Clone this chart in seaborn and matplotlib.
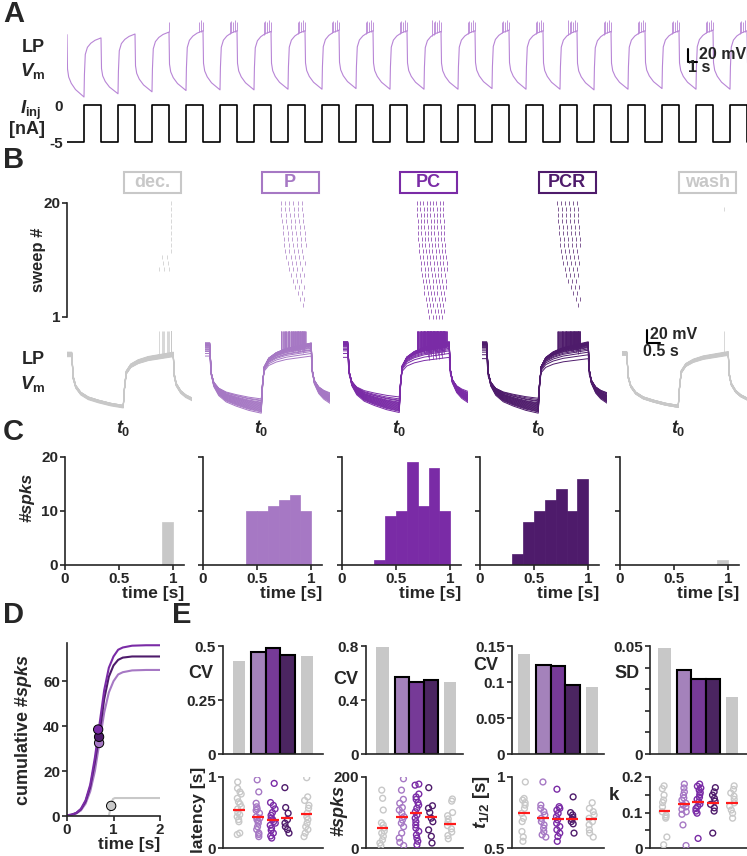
import numpy as np
import pandas as pd
import matplotlib
matplotlib.use("Agg")
import matplotlib.pyplot as plt
import seaborn as sns
from matplotlib.patches import Rectangle

# ---------------- data ----------------
conds = ["dec.", "P", "PC", "PCR", "wash"]
cond_colors = ["#c8c8c8", "#a678c4", "#7a2ba6", "#4e1b6b", "#c8c8c8"]
trace_a_color = "#b885d6"

# A: LP membrane potential, one cycle shape (0 = plateau, 1 = trough), time from step onset
cycle_period = 4.0
a_tmpl_t = [0, 0.06, 0.2, 0.5, 1.0, 1.5, 2.0, 2.05, 2.15, 2.4, 2.8, 3.3, 4.0]
a_tmpl_n = [0, 0.55, 0.68, 0.78, 0.88, 0.94, 1.0, 0.62, 0.28, 0.16, 0.09, 0.04, 0]
a_plateau = [-46, -51, -45, -42, -40, -40, -41, -40, -39, -40, -40, -41, -40, -39, -40, -40, -41, -40, -40, -39, -40, -40]
a_trough = [-142, -137, -134, -132, -131, -131, -130, -130, -129, -130, -130, -130, -129, -130, -130, -131, -130, -129, -130, -130, -130]
a_spikes = [0, 0, 1, 3, 5, 5, 5, 5, 5, 5, 6, 5, 5, 5, 6, 5, 5, 5, 5, 5, 5]
a_spike_gap = 0.2
a_spike_peak = [-27, -24, -26, -25, -27, -24]
i_levels = [-5, 0]
i_durs = [2.0, 2.0]

# B: sweep traces (time relative to t0), same normalised shape
b_tmpl_t = [-2.25, -2.06, -2.0, -1.9, -1.7, -1.4, -1.0, -0.5, 0.0, 0.05, 0.12, 0.3, 0.6, 1.0, 1.5, 2.0, 2.04, 2.12, 2.3, 2.5, 2.75]
b_tmpl_n = [0.0, 0.0, 0.45, 0.62, 0.75, 0.84, 0.9, 0.96, 1.0, 0.65, 0.35, 0.22, 0.14, 0.08, 0.04, 0.0, 0.4, 0.58, 0.72, 0.8, 0.86]

dec_plateau = [-62, -61, -63, -60, -62, -59, -61, -60, -58, -59, -57, -58, -60, -57, -58, -59, -57, -58, -56, -57]
dec_trough = [-140, -141, -139, -140, -142, -139, -140, -141, -139, -138, -140, -139, -141, -138, -140, -139, -138, -140, -139, -138]
p_plateau = [-62, -58, -55, -53, -52, -50, -49, -48, -47, -46, -46, -45, -45, -44, -44, -43, -43, -42, -42, -42]
p_trough = [-128, -130, -131, -133, -134, -135, -136, -137, -138, -139, -140, -141, -142, -143, -144, -145, -146, -147, -148, -150]
pc_plateau = [-64, -58, -54, -52, -50, -48, -47, -46, -45, -45, -44, -44, -43, -43, -42, -42, -41, -41, -40, -40]
pc_trough = [-125, -128, -130, -131, -133, -134, -135, -136, -137, -138, -139, -140, -141, -142, -143, -144, -145, -146, -147, -149]
pcr_plateau = [-66, -60, -56, -53, -51, -49, -48, -47, -46, -45, -45, -44, -44, -43, -43, -42, -42, -41, -41, -40]
pcr_trough = [-127, -129, -131, -132, -134, -135, -136, -137, -138, -139, -140, -141, -142, -143, -144, -145, -146, -147, -148, -150]
wash_plateau = [-60, -59, -61, -58, -60, -57, -59, -58, -57, -58, -56, -57, -59, -56, -57, -58, -56, -57, -55, -56]
wash_trough = [-141, -140, -139, -141, -140, -138, -140, -141, -139, -138, -140, -139, -141, -138, -140, -139, -138, -140, -139, -138]

# B raster: first-spike latency [s after t0], spike count and interval, sweeps 1..20
dec_lat = [0, 0, 0, 0, 0, 0, 0, 0, 1.45, 1.6, 1.55, 1.9, 1.92, 1.9, 1.91, 1.9, 1.92, 1.9, 1.91, 1.9]
dec_cnt = [0, 0, 0, 0, 0, 0, 0, 0, 3, 2, 2, 1, 1, 1, 1, 1, 1, 1, 1, 1]
p_lat = [0, 0, 1.68, 1.55, 1.45, 1.35, 1.25, 1.2, 1.1, 1.05, 1.0, 0.95, 0.92, 0.9, 0.88, 0.85, 0.83, 0.8, 0.78, 0.77]
p_cnt = [0, 0, 1, 2, 2, 3, 3, 4, 4, 5, 5, 5, 6, 6, 6, 6, 6, 6, 6, 6]
pc_lat = [1.2, 1.15, 1.1, 1.05, 1.0, 0.97, 0.94, 0.9, 0.88, 0.85, 0.83, 0.8, 0.78, 0.76, 0.75, 0.74, 0.73, 0.72, 0.71, 0.7]
pc_cnt = [5, 6, 6, 7, 7, 8, 8, 8, 9, 9, 9, 9, 9, 9, 9, 9, 9, 9, 9, 9]
pcr_lat = [0, 0, 1.6, 1.5, 1.4, 1.3, 1.2, 1.1, 1.05, 1.0, 0.95, 0.9, 0.88, 0.85, 0.83, 0.82, 0.8, 0.78, 0.77, 0.76]
pcr_cnt = [0, 0, 1, 2, 2, 3, 3, 4, 4, 5, 5, 5, 6, 6, 6, 6, 6, 6, 6, 6]
wash_lat = [0, 0, 0, 0, 0, 0, 0, 0, 0, 0, 0, 0, 0, 0, 0, 0, 0, 0, 1.84, 0]
wash_cnt = [0, 0, 0, 0, 0, 0, 0, 0, 0, 0, 0, 0, 0, 0, 0, 0, 0, 0, 1, 0]
isi = [0.2, 0.17, 0.13, 0.16, 0.2]

# C: spike-time histograms, 0.1 s bins
hist_centers = [0.05, 0.15, 0.25, 0.35, 0.45, 0.55, 0.65, 0.75, 0.85, 0.95]
dec_hist = [0, 0, 0, 0, 0, 0, 0, 0, 0, 8]
p_hist = [0, 0, 0, 0, 10, 10, 11, 12, 13, 10]
pc_hist = [0, 0, 0, 1, 9, 10, 19, 11, 18, 10]
pcr_hist = [0, 0, 0, 2, 8, 10, 12, 14, 10, 16]
wash_hist = [0, 0, 0, 0, 0, 0, 0, 0, 0, 1]

# D: cumulative spike counts
d_t = [0, 0.1, 0.2, 0.3, 0.4, 0.5, 0.6, 0.7, 0.8, 0.9, 1.0, 1.1, 1.2, 1.4, 1.7, 2.0]
d_p = [0.2, 0.5, 1.1, 2.5, 5.5, 11, 20, 33, 46, 55, 60, 63, 64, 64.8, 65, 65]
d_pc = [0.3, 0.6, 1.4, 3.2, 7, 14, 26, 41, 56, 66, 71, 74, 75, 75.8, 76, 76]
d_pcr = [0.3, 0.6, 1.3, 3, 6.5, 13, 24, 37, 52, 62, 67, 69.5, 70.5, 71, 71, 71]
d_gray_t = [0, 0.9, 0.93, 0.96, 0.99, 1.03, 2.0]
d_gray = [0, 0, 3, 6, 7.6, 8, 8]
d_half_cond = ["P", "PCR", "PC", "dec."]
d_half_t = [0.69, 0.69, 0.67, 0.95]
d_half_y = [32.5, 35.2, 38.5, 4.5]

# E: bar summaries
bar_cv1 = [0.429, 0.472, 0.491, 0.46, 0.455]
bar_cv2 = [0.792, 0.571, 0.534, 0.546, 0.534]
bar_cv3 = [0.139, 0.124, 0.1223, 0.0965, 0.0932]
bar_sd4 = [0.0491, 0.0388, 0.0346, 0.0349, 0.0265]

# E: per-preparation values
lat_dec = [0.93, 0.84, 0.79, 0.76, 0.70, 0.65, 0.62, 0.58, 0.55, 0.50, 0.47, 0.44, 0.40, 0.37, 0.21, 0.19]
lat_p = [0.96, 0.79, 0.63, 0.58, 0.55, 0.53, 0.49, 0.44, 0.42, 0.40, 0.38, 0.35, 0.30, 0.26, 0.21, 0.19, 0.16]
lat_pc = [0.91, 0.64, 0.60, 0.55, 0.50, 0.46, 0.42, 0.40, 0.37, 0.35, 0.32, 0.28, 0.25, 0.21, 0.17, 0.14]
lat_pcr = [0.85, 0.57, 0.49, 0.40, 0.35, 0.30, 0.26, 0.21]
lat_wash = [0.99, 0.72, 0.67, 0.60, 0.56, 0.49, 0.44, 0.40, 0.35, 0.30, 0.26, 0.21, 0.16]
lat_mean = [0.535, 0.437, 0.395, 0.42, 0.475]

spk_dec = [163, 140, 107, 71, 65, 56, 48, 42, 33, 23, 14, 7]
spk_p = [195, 163, 137, 126, 114, 107, 98, 88, 79, 70, 60, 42, 28, 16, 7]
spk_pc = [180, 177, 152, 144, 137, 128, 121, 112, 102, 93, 84, 74, 65, 56, 47, 37, 28, 19, 9]
spk_pcr = [170, 119, 112, 100, 84, 74, 51, 33, 14]
spk_wash = [138, 132, 100, 91, 82, 73, 63, 54, 45, 35, 26]
spk_mean = [57, 88, 100, 86, 68]

th_dec = [0.965, 0.849, 0.837, 0.819, 0.802, 0.779, 0.744, 0.709, 0.686, 0.616, 0.577, 0.547]
th_p = [0.965, 0.802, 0.779, 0.756, 0.733, 0.709, 0.686, 0.663, 0.64, 0.616, 0.593, 0.577]
th_pc = [0.914, 0.791, 0.779, 0.767, 0.744, 0.721, 0.698, 0.674, 0.651, 0.628, 0.605, 0.581, 0.547]
th_pcr = [0.86, 0.749, 0.733, 0.716, 0.702, 0.686, 0.67, 0.605]
th_wash = [0.819, 0.779, 0.756, 0.733, 0.709, 0.686, 0.663, 0.628, 0.605, 0.577]
th_mean = [0.744, 0.714, 0.702, 0.705, 0.705]

k_dec = [0.175, 0.167, 0.149, 0.135, 0.128, 0.116, 0.102, 0.093, 0.088, 0.084, 0.031, 0.009]
k_p = [0.18, 0.169, 0.158, 0.149, 0.141, 0.135, 0.126, 0.121, 0.116, 0.109, 0.102, 0.095, 0.065, 0.007]
k_pc = [0.18, 0.174, 0.169, 0.163, 0.156, 0.15, 0.143, 0.137, 0.13, 0.124, 0.117, 0.111, 0.104, 0.098, 0.027]
k_pcr = [0.17, 0.158, 0.149, 0.14, 0.132, 0.123, 0.113, 0.104, 0.042]
k_wash = [0.175, 0.165, 0.155, 0.146, 0.137, 0.127, 0.118, 0.107, 0.098, 0.084]
k_mean = [0.104, 0.124, 0.13, 0.127, 0.127]

# ---------------- style ----------------
sns.set_style("ticks")
plt.rcParams["font.family"] = ["Liberation Sans", "DejaVu Sans"]
plt.rcParams["font.weight"] = "bold"
plt.rcParams["axes.labelweight"] = "bold"
plt.rcParams["mathtext.fontset"] = "custom"
plt.rcParams["mathtext.rm"] = "Liberation Sans:bold"
plt.rcParams["mathtext.bf"] = "Liberation Sans:bold"
plt.rcParams["mathtext.it"] = "Liberation Sans:bold:italic"
plt.rcParams["axes.linewidth"] = 1.2
plt.rcParams["xtick.major.width"] = 1.2
plt.rcParams["ytick.major.width"] = 1.2
plt.rcParams["xtick.major.size"] = 3.5
plt.rcParams["ytick.major.size"] = 3.5
plt.rcParams["xtick.labelsize"] = 11
plt.rcParams["ytick.labelsize"] = 11
plt.rcParams["xtick.major.pad"] = 1.5
plt.rcParams["ytick.major.pad"] = 1.5

W, H = 747, 856
fig = plt.figure(figsize=(W / 100, H / 100), dpi=100)
palette = dict(zip(conds, cond_colors))


def px_axes(l, t, r, b):
    return fig.add_axes([l / W, 1 - b / H, (r - l) / W, (b - t) / H])


def ftext(x, y, s, **kw):
    kw.setdefault("ha", "center")
    kw.setdefault("va", "center")
    fig.text(x / W, 1 - y / H, s, **kw)


# ---------------- A ----------------
axv = px_axes(67, 14, 747, 100)
t_all, v_all = [], []
prev = a_plateau[0]
for c in range(len(a_trough)):
    b = a_trough[c]
    p = a_plateau[c + 1]
    for tt, nn in zip(a_tmpl_t, a_tmpl_n):
        ref = prev if tt <= 2.0 else p
        t_all.append(c * cycle_period + tt)
        v_all.append(ref + nn * (b - ref))
    prev = p
sns.lineplot(x=t_all, y=v_all, sort=False, estimator=None, color=trace_a_color, lw=0.8, ax=axv)
sp_t, sp_top = [], []
for c, n in enumerate(a_spikes):
    sp_t += [c * cycle_period + 3.95 - i * a_spike_gap for i in range(n)]
    sp_top += a_spike_peak[:n]
axv.vlines(sp_t, np.interp(sp_t, t_all, v_all), sp_top, color=trace_a_color, lw=0.6)
axv.set_xlim(0, 80)
axv.set_ylim(-146.6, -14.2)
axv.axis("off")
axv.plot([73.1, 73.1, 74.1], [-68, -88, -88], color="black", lw=1.5, clip_on=False)
axv.text(74.3, -76, "20 mV", fontsize=11.5, va="center", ha="left")
axv.text(73.0, -97, "1 s", fontsize=11.5, va="center", ha="left")

axi = px_axes(67, 100, 747, 148)
ti, ii = [], []
for c in range(len(a_trough)):
    start = c * cycle_period
    for lev, dur in zip(i_levels, i_durs):
        ti += [start, start + dur]
        ii += [lev, lev]
        start += dur
sns.lineplot(x=ti, y=ii, sort=False, estimator=None, color="black", lw=1.2, ax=axi)
axi.set_xlim(0, 80)
axi.set_ylim(-5.81, 0.68)
sns.despine(ax=axi, left=True, bottom=True)
axi.set_xticks([])
axi.set_yticks([-5, 0])
axi.set_yticklabels(["-5", "0"])
axi.tick_params(axis="y", length=0, pad=3)
axi.set_xlabel("")
axi.set_ylabel("")

ftext(3, 14, "A", fontsize=21, ha="left")
ftext(33, 47, "LP", fontsize=13)
ftext(33, 71, r"$V_\mathrm{m}$", fontsize=13.5)
ftext(31, 110, r"$I_\mathrm{inj}$", fontsize=13.5)
ftext(27, 130, "[nA]", fontsize=13)

# ---------------- B ----------------
b_lefts = [67, 205, 343, 482, 622]
plateaus = [dec_plateau, p_plateau, pc_plateau, pcr_plateau, wash_plateau]
troughs = [dec_trough, p_trough, pc_trough, pcr_trough, wash_trough]
lats = [dec_lat, p_lat, pc_lat, pcr_lat, wash_lat]
cnts = [dec_cnt, p_cnt, pc_cnt, pcr_cnt, wash_cnt]
for k, cond in enumerate(conds):
    col = cond_colors[k]
    L = b_lefts[k]
    axr = px_axes(L, 200, L + 125, 320)
    axt = px_axes(L, 328, L + 125, 415)
    rows = []
    spk_x, spk_base, spk_row = [], [], []
    for s in range(20):
        vs = [plateaus[k][s] + n * (troughs[k][s] - plateaus[k][s]) for n in b_tmpl_n]
        rows += [{"t": t, "v": v, "sweep": s} for t, v in zip(b_tmpl_t, vs)]
        times = [lats[k][s] + i * isi[k] for i in range(cnts[k][s])]
        spk_x += times
        spk_base += list(np.interp(times, b_tmpl_t, vs))
        spk_row += [s + 1] * len(times)
    df = pd.DataFrame(rows)
    sns.lineplot(data=df, x="t", y="v", units="sweep", estimator=None, sort=False,
                 color=col, lw=0.7, ax=axt)
    axt.vlines(spk_x, spk_base, -24, color=col, lw=0.5)
    axt.set_xlim(-2.25, 2.75)
    axt.set_ylim(-152.8, -18.8)
    axt.axis("off")
    axt.text(0, -0.04, r"$t_0$", transform=axt.get_xaxis_transform(), ha="center", va="top", fontsize=13)

    axr.vlines(spk_x, np.array(spk_row) - 0.33, np.array(spk_row) + 0.33, color=col, lw=0.5)
    axr.set_xlim(-2.25, 2.75)
    axr.set_ylim(0.5, 20.5)
    if k == 0:
        sns.despine(ax=axr, bottom=True)
        axr.spines["left"].set_bounds(1, 20)
        axr.set_xticks([])
        axr.set_yticks([1, 20])
        axr.set_yticklabels(["1", "20"])
    else:
        axr.axis("off")

    cx = L + 56.25 + 29
    fig.add_artist(Rectangle(((cx - 28.5) / W, 1 - 193 / H), 57 / W, 21 / H,
                             transform=fig.transFigure, fill=False, ec=col, lw=1.5))
    ftext(cx, 182.5, cond, fontsize=13, color=col)

axt_last = axt
axt_last.plot([-1.25, -1.25, -0.73], [-21.9, -41.9, -41.9], color="black", lw=1.5, clip_on=False)
axt_last.text(-1.12, -29, "20 mV", fontsize=11.5, ha="left", va="center")
axt_last.text(-1.4, -55, "0.5 s", fontsize=11.5, ha="left", va="center")

ftext(3, 160, "B", fontsize=21, ha="left")
ftext(38, 260, "sweep #", fontsize=12, rotation=90)
ftext(33, 360, "LP", fontsize=13)
ftext(33, 384, r"$V_\mathrm{m}$", fontsize=13.5)

# ---------------- C ----------------
c_spines = [65, 203, 342, 480, 620]
hists = [dec_hist, p_hist, pc_hist, pcr_hist, wash_hist]
edges = [0, 0.1, 0.2, 0.3, 0.4, 0.5, 0.6, 0.7, 0.8, 0.9, 1.0]
for k, cond in enumerate(conds):
    col = cond_colors[k]
    x0 = c_spines[k]
    ax = px_axes(x0, 457, x0 + 119, 565)
    hdf = pd.DataFrame({"t": hist_centers, "n": hists[k]})
    sns.histplot(data=hdf, x="t", weights="n", bins=edges, color=col, alpha=1,
                 edgecolor=col, linewidth=0.5, ax=ax)
    ax.set_xlim(0, 1.1)
    ax.set_ylim(0, 20)
    sns.despine(ax=ax)
    ax.set_xticks([0, 0.5, 1])
    ax.set_xticklabels(["0", "0.5", "1"])
    ax.set_yticks([0, 10, 20])
    if k == 0:
        ax.set_yticklabels(["0", "10", "20"])
    else:
        ax.set_yticklabels([])
    ax.set_ylabel("")
    ax.set_xlabel("time [s]", fontsize=12.5, loc="right", labelpad=0)

ftext(3, 432, "C", fontsize=21, ha="left")
ftext(27, 497, "#spks", fontsize=12.5, rotation=90, style="italic")

# ---------------- D ----------------
axd = px_axes(67, 643, 160, 816)
sns.lineplot(x=d_gray_t, y=d_gray, color=cond_colors[0], lw=1.5, estimator=None, ax=axd)
sns.lineplot(x=d_t, y=d_p, color=cond_colors[1], lw=1.5, estimator=None, ax=axd)
sns.lineplot(x=d_t, y=d_pcr, color=cond_colors[3], lw=1.5, estimator=None, ax=axd)
sns.lineplot(x=d_t, y=d_pc, color=cond_colors[2], lw=1.5, estimator=None, ax=axd)
sns.scatterplot(x=d_half_t, y=d_half_y, hue=d_half_cond, palette=palette, s=45,
                edgecolor="black", linewidth=0.7, legend=False, zorder=5, ax=axd)
axd.set_xlim(0, 2)
axd.set_ylim(0, 77)
sns.despine(ax=axd)
axd.set_xticks([0, 1, 2])
axd.set_xticklabels(["0", "1", "2"])
axd.set_yticks([0, 20, 40, 60])
axd.set_yticklabels(["0", "20", "40", "60"])
axd.set_xlabel("time [s]", fontsize=12.5, loc="right", labelpad=0)
axd.set_ylabel("")
ftext(3, 615, "D", fontsize=21, ha="left")
ftext(24, 730, r"cumulative #$spks$", fontsize=13, rotation=90)

# ---------------- E ----------------
e_pos = [0, 1.33, 2.33, 3.33, 4.66]
e_spines = [223, 366, 512, 650]
e_rights = [323, 463, 604, 747]
e_first = [239, 382.5, 524, 664.5]
bars = [bar_cv1, bar_cv2, bar_cv3, bar_sd4]
bar_lims = [0.5, 0.8, 0.15, 0.05]
bar_ticks = [[0, 0.25, 0.5], [0, 0.4, 0.8], [0, 0.05, 0.1, 0.15], [0, 0.01, 0.02, 0.03, 0.04, 0.05]]
bar_tlabels = [["0", "0.25", "0.5"], ["0", "0.4", "0.8"], ["0", "0.05", "0.1", "0.15"],
               ["0", "", "", "", "", "0.05"]]
bar_names = [("CV", 201, 673), ("CV", 346, 680), ("CV", 486, 665), ("SD", 627, 673)]
strips = [[lat_dec, lat_p, lat_pc, lat_pcr, lat_wash],
          [spk_dec, spk_p, spk_pc, spk_pcr, spk_wash],
          [th_dec, th_p, th_pc, th_pcr, th_wash],
          [k_dec, k_p, k_pc, k_pcr, k_wash]]
strip_means = [lat_mean, spk_mean, th_mean, k_mean]
strip_lims = [(0, 1), (0, 200), (0.5, 1), (0, 0.2)]
strip_ticks = [[0, 1], [0, 200], [0.5, 1], [0, 0.05, 0.1, 0.15, 0.2]]
strip_tlabels = [["0", "1"], ["0", "200"], ["0.5", "1"], ["0", "", "0.1", "", "0.2"]]

for j in range(4):
    l, r = e_spines[j], e_rights[j]
    xl = ((l - e_first[j]) / 14.5, (r - e_first[j]) / 14.5)

    axb = px_axes(l, 646, r, 754)
    sns.barplot(x=e_pos, y=bars[j], hue=conds, palette=palette, native_scale=True,
                width=1.0, dodge=False, errorbar=None, legend=False, ax=axb)
    for patch in axb.patches:
        cx = patch.get_x() + patch.get_width() / 2
        idx = int(np.argmin([abs(cx - p) for p in e_pos]))
        if conds[idx] in ("dec.", "wash"):
            patch.set_width(0.83)
            patch.set_x(e_pos[idx] - 0.415)
            patch.set_edgecolor("none")
        else:
            patch.set_edgecolor("black")
            patch.set_linewidth(1.5)
    axb.set_xlim(*xl)
    axb.set_ylim(0, bar_lims[j])
    sns.despine(ax=axb)
    axb.set_xticks([])
    axb.set_yticks(bar_ticks[j])
    axb.set_yticklabels(bar_tlabels[j])
    axb.set_xlabel("")
    axb.set_ylabel("")
    name, nx, ny = bar_names[j]
    ftext(nx, ny, name, fontsize=13)

    axs = px_axes(l, 777, r, 848)
    sdf = pd.DataFrame({
        "pos": [e_pos[i] for i in range(5) for _ in strips[j][i]],
        "val": [v for i in range(5) for v in strips[j][i]],
        "cond": [conds[i] for i in range(5) for _ in strips[j][i]],
    })
    sns.stripplot(data=sdf, x="pos", y="val", hue="cond", palette=palette, native_scale=True,
                  jitter=0.18, size=4.2, legend=False, ax=axs)
    for coll in axs.collections:
        fc = coll.get_facecolors()
        coll.set_edgecolors(fc)
        coll.set_facecolors("none")
        coll.set_linewidth(1.0)
    axs.hlines(strip_means[j], [p - 0.4 for p in e_pos], [p + 0.4 for p in e_pos],
               color="#ff1a1a", lw=1.6, zorder=5)
    axs.set_xlim(*xl)
    axs.set_ylim(*strip_lims[j])
    sns.despine(ax=axs)
    axs.set_xticks([])
    axs.set_yticks(strip_ticks[j])
    axs.set_yticklabels(strip_tlabels[j])
    axs.set_xlabel("")
    axs.set_ylabel("")

ftext(172, 615, "E", fontsize=21, ha="left")
ftext(198, 810, "latency [s]", fontsize=12.5, rotation=90)
ftext(339, 810, "#spks", fontsize=13, rotation=90, style="italic")
ftext(481, 802, r"$t_{1/2}$ [s]", fontsize=13.5, rotation=90)
ftext(614, 795, "k", fontsize=13.5)

fig.savefig("out.png", dpi=100)
